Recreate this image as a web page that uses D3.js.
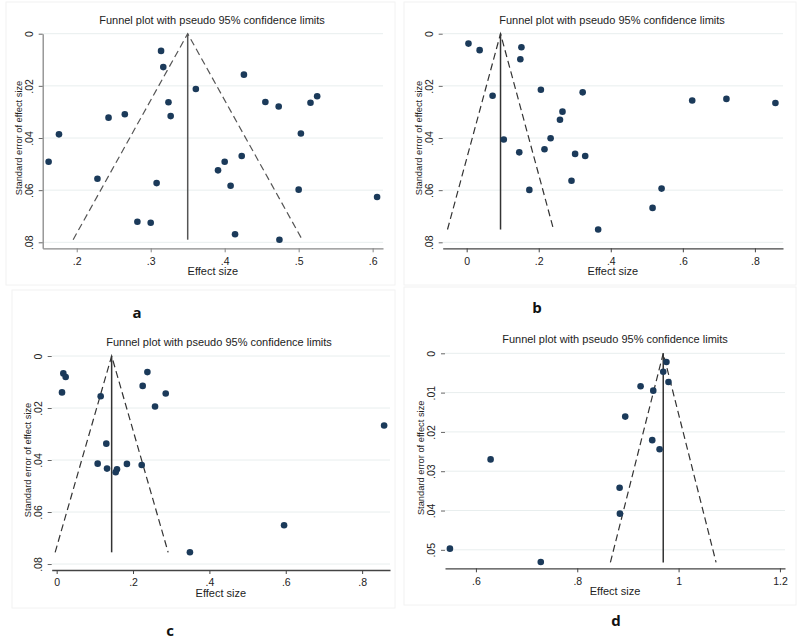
<!DOCTYPE html>
<html><head><meta charset="utf-8">
<script src="https://cdn.jsdelivr.net/npm/d3@7"></script>
<style>
body{margin:0;background:#fff;}
text{font-family:"Liberation Sans",Arial,sans-serif;fill:#222;}
.letter{font-family:"Open Sans","Liberation Sans",sans-serif;font-weight:bold;font-size:15px;fill:#111;}
</style></head>
<body>
<svg id="chart" width="800" height="640"></svg>
<script>
// ---- data ----
const titleText = "Funnel plot with pseudo 95% confidence limits";
const xTitle = "Effect size";
const yTitle = "Standard error of effect size";

// panel a
const aEffect = [0.314,0.317,0.426,0.361,0.324,0.455,0.473,0.516,0.525,0.243,0.265,0.327,0.176,0.503,0.162,0.423,0.400,0.391,0.228,0.308,0.408,0.500,0.606,0.282,0.300,0.414,0.474];
const aSE     = [0.0066,0.0128,0.0157,0.0212,0.0263,0.0262,0.0279,0.0265,0.0240,0.0322,0.0309,0.0316,0.0386,0.0383,0.0491,0.0469,0.0491,0.0524,0.0556,0.0573,0.0583,0.0598,0.0626,0.0721,0.0725,0.0769,0.0790];
const aPooled = 0.35, aMaxSE = 0.079;
const aXTicks = [0.2,0.3,0.4,0.5,0.6];
const aYTicks = [0,0.02,0.04,0.06,0.08];

// panel b
const bEffect = [0.005,0.036,0.152,0.149,0.206,0.322,0.072,0.626,0.721,0.857,0.266,0.259,0.103,0.233,0.216,0.146,0.301,0.329,0.291,0.174,0.541,0.516,0.365];
const bSE     = [0.0038,0.0063,0.0052,0.0098,0.0215,0.0225,0.0238,0.0256,0.0250,0.0266,0.0299,0.0330,0.0406,0.0401,0.0443,0.0455,0.0461,0.0469,0.0564,0.0599,0.0594,0.0668,0.0751];
const bPooled = 0.094, bMaxSE = 0.0751;
const bXTicks = [0,0.2,0.4,0.6,0.8];
const bYTicks = [0,0.02,0.04,0.06,0.08];

// panel c
const cEffect = [0.0175,0.0236,0.014,0.2376,0.2253,0.2856,0.1153,0.2576,0.8576,0.130,0.1074,0.184,0.2227,0.1319,0.158,0.1546,0.5956,0.349];
const cSE     = [0.0067,0.0081,0.0140,0.0062,0.0115,0.0144,0.0155,0.0194,0.0267,0.0337,0.0414,0.0415,0.0419,0.0433,0.0436,0.0447,0.0651,0.0755];
const cPooled = 0.144, cMaxSE = 0.0755;
const cXTicks = [0,0.2,0.4,0.6,0.8];
const cYTicks = [0,0.02,0.04,0.06,0.08];

// panel d
const dEffect = [0.976,0.9697,0.980,0.925,0.950,0.8947,0.948,0.9625,0.629,0.8836,0.8842,0.5487,0.728];
const dSE     = [0.0022,0.0047,0.0073,0.0084,0.0095,0.0161,0.0221,0.0244,0.0270,0.0342,0.0408,0.0497,0.0531];
const dPooled = 0.9697, dMaxSE = 0.0532;
const dXTicks = [0.6,0.8,1,1.2];
const dYTicks = [0,0.01,0.02,0.03,0.04,0.05];

const panelLetters = ["a","b","c","d"];

// ---- drawing ----
const svg = d3.select("#chart");
const fmt = v => { if (v===0) return "0"; let s = d3.format("~g")(v); return s.replace(/^0\./,"."); };

// faint panel frames
[[6,2,389,283],[404,2,392,283],[12,290,383,318],[404,287,392,318]].forEach(r=>{
  svg.append("rect").attr("x",r[0]).attr("y",r[1]).attr("width",r[2]).attr("height",r[3])
    .attr("fill","none").attr("stroke","#f2f2f2").attr("stroke-width",1);
});

function drawPanel(p){
  const g = svg.append("g");
  const x = d3.scaleLinear().domain(p.xDomain).range([p.left,p.right]);
  const y = d3.scaleLinear().domain(p.yDomain).range([p.top,p.bottom]);
  // grid
  g.selectAll(".grid").data(p.yTicks).enter().append("line")
    .attr("x1",p.left).attr("x2",p.right).attr("y1",d=>y(d)).attr("y2",d=>y(d))
    .attr("stroke","#e8eeee").attr("stroke-width",1);
  // x axis
  const xAxis = d3.axisBottom(x).tickValues(p.xTicks).tickFormat(fmt).tickSize(4).tickSizeOuter(0);
  const xa = g.append("g").attr("transform",`translate(0,${p.bottom})`).call(xAxis);
  xa.select(".domain").attr("stroke",p.axisColor).attr("stroke-width",1.3);
  xa.selectAll(".tick line").attr("stroke",p.axisColor);
  xa.selectAll(".tick text").attr("font-size",10.5).attr("fill","#333").attr("dy","0.9em")
    .style("font-family","Liberation Sans, Arial, sans-serif");
  // y axis
  const yAxis = d3.axisLeft(y).tickValues(p.yTicks).tickFormat(fmt).tickSize(4).tickSizeOuter(0);
  const ya = g.append("g").attr("transform",`translate(${p.left},0)`).call(yAxis);
  ya.select(".domain").attr("stroke",p.yAxisLine ? p.axisColor : "none").attr("stroke-width",1.3);
  ya.selectAll(".tick line").attr("stroke","#666");
  ya.selectAll(".tick text").attr("font-size",10.5).attr("fill","#333")
    .attr("x",0).attr("dy",0).attr("text-anchor","middle")
    .attr("transform","translate(-10,0) rotate(-90)")
    .style("font-family","Liberation Sans, Arial, sans-serif");
  // funnel
  const lo = p.pooled - 1.96*p.maxSE, hi = p.pooled + 1.96*p.maxSE;
  const line = d3.line().x(d=>x(d[0])).y(d=>y(d[1]));
  g.append("path").attr("d",line([[lo,p.maxSE],[p.pooled,0],[hi,p.maxSE]]))
    .attr("fill","none").attr("stroke",p.funnelColor).attr("stroke-width",1.2).attr("stroke-dasharray","7,4");
  g.append("path").attr("d",line([[p.pooled,0],[p.pooled,p.maxSE]]))
    .attr("fill","none").attr("stroke",p.funnelColor).attr("stroke-width",1.5);
  // points
  g.selectAll(".pt").data(p.effect.map((e,i)=>[e,p.se[i]])).enter().append("circle")
    .attr("cx",d=>x(d[0])).attr("cy",d=>y(d[1])).attr("r",3.3).attr("fill","#1b3a5a");
  // titles
  g.append("text").attr("x",p.titleX).attr("y",p.top-10).attr("text-anchor","middle")
    .attr("font-size",11).text(titleText);
  g.append("text").attr("x",(p.left+p.right)/2).attr("y",p.bottom+27).attr("text-anchor","middle")
    .attr("font-size",11).text(xTitle);
  g.append("text").attr("transform",`translate(${p.left-21},${(p.top+p.bottom)/2 - 3}) rotate(-90)`)
    .attr("text-anchor","middle").attr("font-size",9.3).text(yTitle);
  g.append("text").attr("class","letter").attr("x",p.letterX).attr("y",p.letterY)
    .attr("text-anchor","middle").text(p.letter);
}

drawPanel({effect:aEffect,se:aSE,pooled:aPooled,maxSE:aMaxSE,xTicks:aXTicks,yTicks:aYTicks,
  xDomain:[0.154,0.614],yDomain:[0,0.0823],left:42.7,right:383,top:33.7,bottom:248.3,
  axisColor:"#888",yAxisLine:true,funnelColor:"#555",titleX:212,letter:panelLetters[0],letterX:137,letterY:318});
drawPanel({effect:bEffect,se:bSE,pooled:bPooled,maxSE:bMaxSE,xTicks:bXTicks,yTicks:bYTicks,
  xDomain:[-0.0665,0.878],yDomain:[0,0.0823],left:442.7,right:783,top:33.7,bottom:248.3,
  axisColor:"#444",yAxisLine:false,funnelColor:"#333",titleX:612,letter:panelLetters[1],letterX:537,letterY:313});
drawPanel({effect:cEffect,se:cSE,pooled:cPooled,maxSE:cMaxSE,xTicks:cXTicks,yTicks:cYTicks,
  xDomain:[-0.013,0.873],yDomain:[0,0.0823],left:51.7,right:390,top:356,bottom:570,
  axisColor:"#444",yAxisLine:false,funnelColor:"#333",titleX:219,letter:panelLetters[2],letterX:170,letterY:636});
drawPanel({effect:dEffect,se:dSE,pooled:dPooled,maxSE:dMaxSE,xTicks:dXTicks,yTicks:dYTicks,
  xDomain:[0.539,1.21],yDomain:[0,0.0547],left:445,right:785,top:353.3,bottom:568.3,
  axisColor:"#444",yAxisLine:false,funnelColor:"#333",titleX:615,letter:panelLetters[3],letterX:616,letterY:626});
</script>
</body></html>
